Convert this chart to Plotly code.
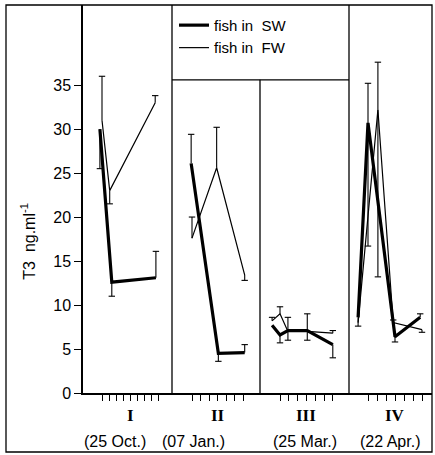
import plotly.graph_objects as go

# ---- data ----
panel_labels = ["I", "II", "III", "IV"]
panel_dates = ["(25 Oct.)", "(07 Jan.)", "(25 Mar.)", "(22 Apr.)"]
panel_ntick = [9, 7, 7, 7]

# time positions (in tick units within each visit)
sw_days = [[-0.3, 1.4, 7.7], [-0.1, 3.1, 6.2], [-0.9, 0, 0.9, 3.1, 6.0], [-1.1, 0, 3.0, 5.8]]
sw_vals = [[30.0, 12.6, 13.1], [26.1, 4.5, 4.6], [7.7, 6.6, 7.1, 7.1, 5.5], [8.6, 30.7, 6.4, 8.6]]
sw_err_up = [[0, 0, 3.0], [3.3, 0, 0.9], [0, 0, 0, 0, 0], [0, 4.5, 0, 0.4]]
sw_err_dn = [[4.5, 1.6, 0], [0, 0.9, 0], [0, 0.9, 1.1, 1.1, 1.5], [1.0, 14.0, 0.6, 0]]

fw_days = [[0, 1.1, 7.6], [0, 2.9, 6.2], [-0.9, 0, 0.9, 3.1, 6.0], [-1.1, 1.1, 2.8, 6.0]]
fw_vals = [[31.0, 23.0, 33.0], [17.6, 25.6, 13.4], [8.2, 9.0, 7.0, 7.0, 6.8], [8.0, 32.2, 8.0, 7.2]]
fw_err_up = [[5.0, 0, 0.8], [2.4, 4.6, 0], [0.4, 0.8, 1.6, 2.0, 0.3], [0, 5.4, 0.3, 0]]
fw_err_dn = [[0, 1.5, 0], [0, 0, 0.6], [0, 0, 0, 0, 0], [0, 19.0, 0, 0.3]]

# ---- layout helpers (axis geometry) ----
panel_left = [0, 89, 177, 266]
panel_first = [19, 20, 20, 19]
panel_step = [7, 8.5, 8.8, 9]
X_MAX = 349
Y_MAX = 44.1
legend_floor = 35.6
CAP = 3.2


def to_x(p, d):
    return panel_left[p] + panel_first[p] + d * panel_step[p]


def build(days, vals):
    xs, ys = [], []
    for p in range(4):
        for d, v in zip(days[p], vals[p]):
            xs.append(to_x(p, d)); ys.append(v)
        xs.append(None); ys.append(None)
    return xs, ys


def build_err(days, vals, up, dn):
    xs, ys = [], []
    for p in range(4):
        for d, v, u, m in zip(days[p], vals[p], up[p], dn[p]):
            x = to_x(p, d)
            for e in (u, -m):
                if e != 0:
                    xs += [x, x, None, x - CAP, x + CAP, None]
                    ys += [v, v + e, None, v + e, v + e, None]
    return xs, ys


fig = go.Figure()
for name, days, vals, up, dn, w in [
    ("fish in\u00a0 SW", sw_days, sw_vals, sw_err_up, sw_err_dn, 3.2),
    ("fish in\u00a0 FW", fw_days, fw_vals, fw_err_up, fw_err_dn, 1.2),
]:
    xs, ys = build(days, vals)
    fig.add_trace(go.Scatter(x=xs, y=ys, mode="lines", name=name,
                             line=dict(color="black", width=w)))
    ex, ey = build_err(days, vals, up, dn)
    fig.add_trace(go.Scatter(x=ex, y=ey, mode="lines", showlegend=False, hoverinfo="skip",
                             line=dict(color="black", width=1.1)))

tickvals = []
for p in range(4):
    for k in range(panel_ntick[p]):
        tickvals.append(to_x(p, k))

shapes = []
shapes.append(dict(type="line", xref="x", yref="y", x0=panel_left[1], x1=panel_left[1], y0=0, y1=Y_MAX,
                   line=dict(color="black", width=1.3)))
shapes.append(dict(type="line", xref="x", yref="y", x0=panel_left[2], x1=panel_left[2], y0=0, y1=legend_floor,
                   line=dict(color="black", width=1.3)))
shapes.append(dict(type="line", xref="x", yref="y", x0=panel_left[3], x1=panel_left[3], y0=0, y1=Y_MAX,
                   line=dict(color="black", width=1.3)))
shapes.append(dict(type="line", xref="x", yref="y", x0=panel_left[1], x1=panel_left[3], y0=legend_floor, y1=legend_floor,
                   line=dict(color="black", width=1.3)))
shapes.append(dict(type="rect", xref="paper", yref="paper", x0=-77 / 349, x1=1.0, y0=-59 / 388, y1=1.0,
                   line=dict(color="black", width=1.3), fillcolor="rgba(0,0,0,0)"))

annotations = []
centers_num = [to_x(p, (panel_ntick[p] - 1) / 2) for p in range(4)]
date_centers = [32, 110, 222, 307]
for p in range(4):
    annotations.append(dict(x=centers_num[p], y=-0.059, xref="x", yref="paper", text="<b>" + panel_labels[p] + "</b>",
                            showarrow=False, yanchor="middle",
                            font=dict(family="Liberation Serif", size=17, color="black")))
    annotations.append(dict(x=date_centers[p], y=-0.124, xref="x", yref="paper", text=panel_dates[p],
                            showarrow=False, yanchor="middle",
                            font=dict(family="Liberation Sans", size=16, color="black")))
annotations.append(dict(x=-55 / 349, y=0.39, xref="paper", yref="paper", text="T3  ng.ml<sup>-1</sup>",
                        textangle=-90, showarrow=False, xanchor="center", yanchor="middle",
                        font=dict(family="Liberation Sans", size=16, color="black")))

fig.update_layout(
    width=435, height=455,
    margin=dict(l=83, r=3, t=5, b=62),
    paper_bgcolor="white", plot_bgcolor="white",
    font=dict(family="Liberation Sans", size=14, color="black"),
    showlegend=True,
    legend=dict(x=(174 - 83) / 349, y=0.99, xanchor="left", yanchor="top",
                bgcolor="rgba(0,0,0,0)", font=dict(size=15), itemwidth=30,
                tracegroupgap=0),
    xaxis=dict(range=[0, X_MAX], showline=True, linecolor="black", linewidth=1.5,
               showgrid=False, zeroline=False, tickvals=tickvals, showticklabels=False,
               ticks="outside", ticklen=6, tickcolor="black", tickwidth=1.2),
    yaxis=dict(range=[0, Y_MAX], showline=True, linecolor="black", linewidth=1.5,
               showgrid=False, zeroline=False, tickvals=[0, 5, 10, 15, 20, 25, 30, 35],
               ticks="outside", ticklen=7, tickcolor="black", tickwidth=1.2,
               tickfont=dict(size=16)),
    shapes=shapes, annotations=annotations,
)

fig.write_html("out.html")
